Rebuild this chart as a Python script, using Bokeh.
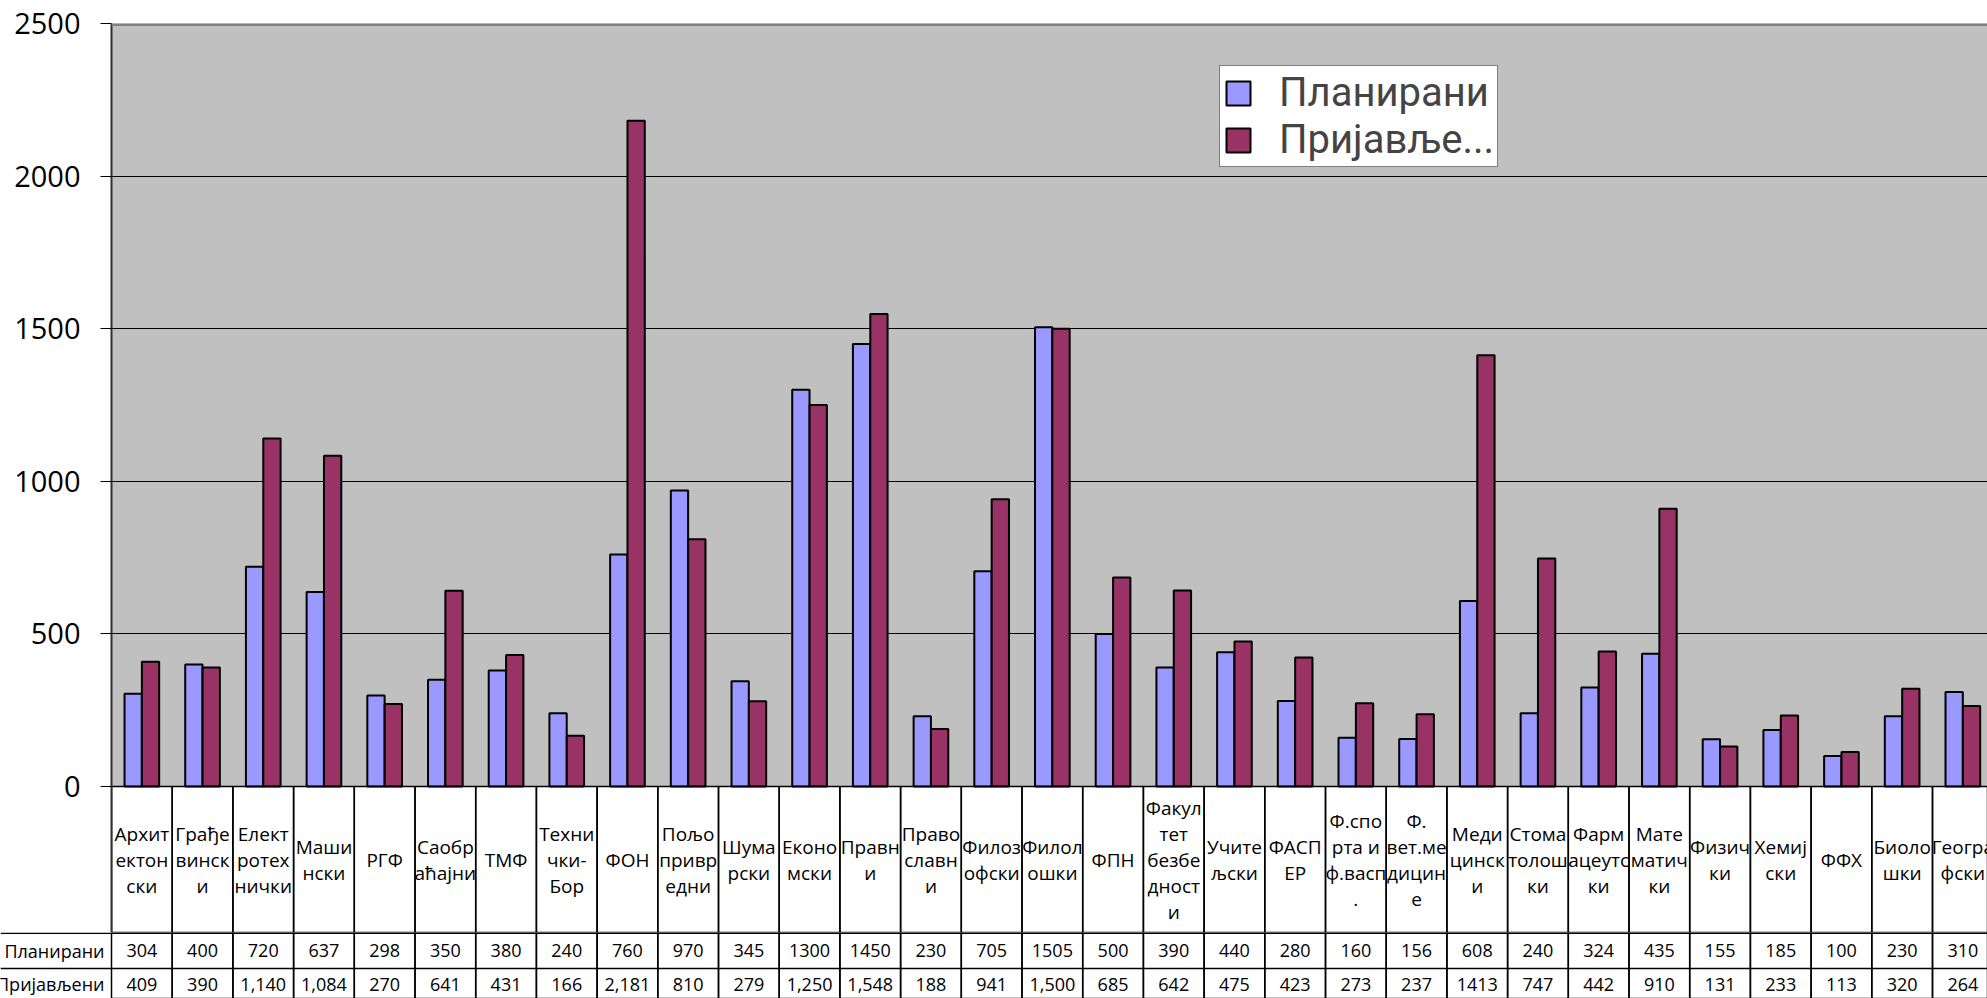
import numpy as np
from bokeh.plotting import figure
from bokeh.layouts import column
from bokeh.models import (Range1d, FixedTicker, Span, Legend, LegendItem,
                          BoxAnnotation, ColumnDataSource)
from bokeh.transform import dodge
from bokeh.core.properties import value
from bokeh.embed import file_html
from bokeh.resources import INLINE

# ---------------- data ----------------
categories = [
    "Архитектонски", "Грађевински", "Електротехнички", "Машински", "РГФ",
    "Саобраћајни", "ТМФ", "Технички-Бор", "ФОН", "Пољопривредни",
    "Шумарски", "Економски", "Правни", "Православни", "Филозофски",
    "Филолошки", "ФПН", "Факултет безбедности", "Учитељски", "ФАСПЕР",
    "Ф.спорта и ф.васп.", "Ф.вет.медицине", "Медицински", "Стоматолошки",
    "Фармацеутски", "Математички", "Физички", "Хемијски", "ФФХ",
    "Биолошки", "Географски",
]
category_labels = [
    "Архит\nектон\nски", "Грађе\nвинск\nи", "Елект\nротех\nнички", "Маши\nнски", "РГФ",
    "Саобр\nаћајни", "ТМФ", "Техни\nчки-\nБор", "ФОН", "Пољо\nпривр\nедни",
    "Шума\nрски", "Еконо\nмски", "Правн\nи", "Право\nславн\nи", "Филоз\nофски",
    "Филол\nошки", "ФПН", "Факул\nтет\nбезбе\nдност\nи", "Учите\nљски", "ФАСП\nЕР",
    "Ф.спо\nрта и\nф.васп\n.", "Ф.\nвет.ме\nдицин\nе", "Меди\nцинск\nи", "Стома\nтолош\nки",
    "Фарм\nацеутс\nки", "Мате\nматич\nки", "Физич\nки", "Хемиј\nски", "ФФХ",
    "Биоло\nшки", "Геогра\nфски",
]
planirani = [304, 400, 720, 637, 298, 350, 380, 240, 760, 970,
             345, 1300, 1450, 230, 705, 1505, 500, 390, 440, 280,
             160, 156, 608, 240, 324, 435, 155, 185, 100, 230, 310]
prijavljeni = [409, 390, 1140, 1084, 270, 641, 431, 166, 2181, 810,
               279, 1250, 1548, 188, 941, 1500, 685, 642, 475, 423,
               273, 237, 1413, 747, 442, 910, 131, 233, 113, 320, 264]
planirani_text = ["304", "400", "720", "637", "298", "350", "380", "240", "760", "970",
                  "345", "1300", "1450", "230", "705", "1505", "500", "390", "440", "280",
                  "160", "156", "608", "240", "324", "435", "155", "185", "100", "230", "310"]
prijavljeni_text = ["409", "390", "1,140", "1,084", "270", "641", "431", "166", "2,181", "810",
                    "279", "1,250", "1,548", "188", "941", "1,500", "685", "642", "475", "423",
                    "273", "237", "1413", "747", "442", "910", "131", "233", "113", "320", "264"]
series_names = ["Планирани", "Пријављени"]
legend_labels = ["Планирани", "Пријавље..."]
y_ticks = [0, 500, 1000, 1500, 2000, 2500]
colors = ["#9999FF", "#993366"]

# ---------------- layout constants (pixels) ----------------
W = 1987
LEFT, TOP = 111, 23
ZERO_Y = 786          # page y of value 0
ROW1_Y = 932          # bottom of category-name row
TOTAL_H = 998
CAT_PX = 60.7
ppu = (ZERO_Y - TOP) / 2500.0

H1 = ROW1_Y
H2 = TOTAL_H - ROW1_Y
x_end = (W - LEFT) / CAT_PX
y_start = -(ROW1_Y - ZERO_Y) / ppu
cat_center = -((ROW1_Y - ZERO_Y) / 2) / ppu

FONT = "Open Sans"
TXT = "18px"

xs = np.arange(len(categories)) + 0.5
src = ColumnDataSource(dict(
    x=xs, cat=categories, lab=category_labels,
    plan=planirani, prij=prijavljeni,
    plan_t=planirani_text, prij_t=prijavljeni_text,
))

# ---------------- chart figure ----------------
p = figure(width=W, height=H1, output_backend="svg", toolbar_location=None,
           x_range=Range1d(0, x_end), y_range=Range1d(y_start, y_ticks[-1]),
           x_axis_location=None, min_border_left=LEFT, min_border_top=TOP,
           min_border_right=0, min_border_bottom=0)
p.frame_align = False
p.outline_line_color = None
p.background_fill_color = "white"
p.border_fill_color = "white"

p.add_layout(BoxAnnotation(bottom=0, fill_color="#C0C0C0", fill_alpha=1,
                           line_color=None, level="image"))

p.xgrid.visible = False
p.ygrid.ticker = FixedTicker(ticks=y_ticks)
p.ygrid.grid_line_color = "black"
p.ygrid.grid_line_width = 1
# plot-area top border (grey)
p.add_layout(Span(location=y_ticks[-1], dimension="width", line_color="#808080",
                  line_width=5))

ax = p.yaxis[0]
ax.ticker = FixedTicker(ticks=y_ticks)
ax.axis_line_color = "#303030"
ax.axis_line_width = 2
ax.major_tick_out = 11
ax.major_tick_in = 0
ax.major_tick_line_color = "black"
ax.minor_tick_line_color = None
ax.major_label_text_font = FONT
ax.major_label_text_font_size = "29px"
ax.major_label_text_color = "black"
ax.major_label_standoff = 20

rp = p.vbar(x=dodge("x", -0.143), top="plan", width=0.285, source=src,
            fill_color=colors[0], line_color="black", line_width=2)
rq = p.vbar(x=dodge("x", 0.143), top="prij", width=0.285, source=src,
            fill_color=colors[1], line_color="black", line_width=2)

# category-name cells
p.vbar(x="x", top=0, bottom=y_start - 100, width=1, source=src,
       fill_color=None, line_color="black", line_width=1.5)
p.text(x="x", y=cat_center, text="lab", source=src, text_align="center",
       text_baseline="middle", text_font=value(FONT), text_font_size="19px",
       text_line_height=1.0, text_color="black")

legend = Legend(items=[LegendItem(label=legend_labels[0], renderers=[rp]),
                       LegendItem(label=legend_labels[1], renderers=[rq])],
                location=(1219 - LEFT, ROW1_Y - 167), label_text_font="Roboto",
                label_text_font_size="40px",
                glyph_width=30, glyph_height=30,
                label_standoff=26, padding=3, spacing=0,
                border_line_color="black", border_line_width=1,
                background_fill_color="white", background_fill_alpha=1)
p.add_layout(legend)

# ---------------- numeric rows figure ----------------
t = figure(width=W, height=H2, output_backend="svg", toolbar_location=None,
           x_range=Range1d(-LEFT / CAT_PX, x_end), y_range=Range1d(0, H2),
           x_axis_location=None, y_axis_location=None,
           min_border_left=0, min_border_top=0, min_border_right=0, min_border_bottom=0)
t.frame_align = False
t.outline_line_color = None
t.xgrid.visible = False
t.ygrid.visible = False
t.background_fill_color = "white"
t.border_fill_color = "white"

plan_y = H2 - (950 - ROW1_Y)
prij_y = H2 - (983.5 - ROW1_Y)
row2_line = H2 - (968 - ROW1_Y)

t.vbar(x="x", top=H2 + 20, bottom=-20, width=1, source=src,
       fill_color=None, line_color="black", line_width=1.5)
t.add_layout(Span(location=H2 - 0.75, dimension="width", line_color="black", line_width=1.5))
t.add_layout(Span(location=row2_line, dimension="width", line_color="black", line_width=1.5))

t.text(x="x", y=plan_y, text="plan_t", source=src, text_align="center",
       text_baseline="middle", text_font=value(FONT), text_font_size=TXT,
       text_color="black")
t.text(x="x", y=prij_y, text="prij_t", source=src, text_align="center",
       text_baseline="middle", text_font=value(FONT), text_font_size=TXT,
       text_color="black")
t.text(x=[-7 / CAT_PX] * 2, y=[plan_y, prij_y], text=series_names,
       text_align="right", text_baseline="middle", text_font=value(FONT),
       text_font_size=TXT, text_color="black")

layout = column(p, t, spacing=0)
open("out.html", "w").write(file_html(layout, INLINE))
